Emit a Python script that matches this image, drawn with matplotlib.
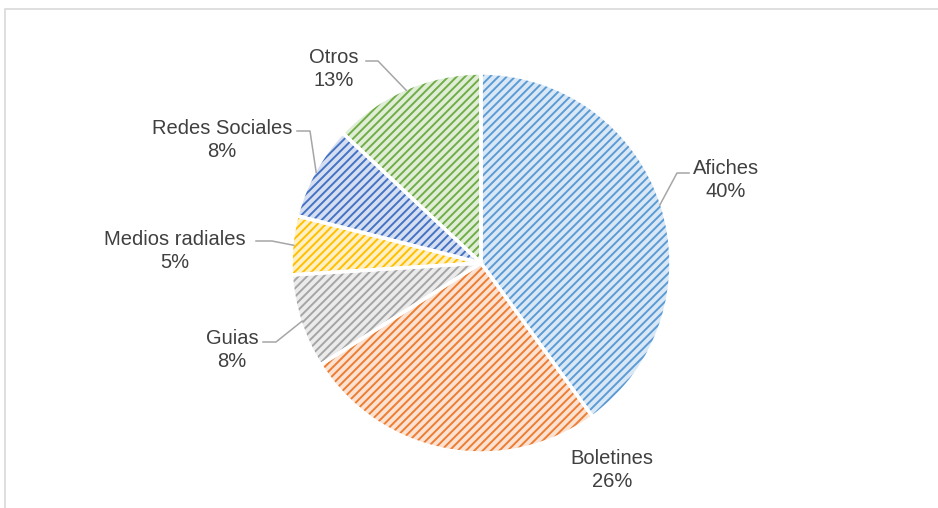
import matplotlib.pyplot as plt
import numpy as np
from matplotlib.patches import Rectangle

# Datos del gráfico
categorias = ["Afiches", "Boletines", "Guias", "Medios radiales", "Redes Sociales", "Otros"]
porcentajes = [40, 26, 8, 5, 8, 13]
colores = ["#5B9BD5", "#ED7D31", "#A5A5A5", "#FFC000", "#4472C4", "#70AD47"]
colores_fondo = ["#DAE8F6", "#FBE2D2", "#EBEBEB", "#FFF0C6", "#D6DFF1", "#E0EED8"]

W, H = 938, 508
centro = (481, H - 263)
radio = 190

# posiciones de etiquetas (pixeles, y desde arriba) y codo de la linea guia
etiquetas_pos = [(726, 180), (612, 470), (232, 350), (175, 251), (222, 140), (334, 69)]
codos = [((689, 173), (677, 173)), None, ((263, 342), (276, 342)),
         ((256, 241), (272, 241)), ((297, 131), (310, 131)), ((366, 61), (378, 61))]

plt.rcParams["hatch.linewidth"] = 1.4
fig = plt.figure(figsize=(W / 100, H / 100), dpi=100)
ax = fig.add_axes([0, 0, 1, 1])

wedges, _ = ax.pie(porcentajes, center=centro, radius=radio, startangle=90,
                   counterclock=False, colors=colores_fondo, frame=True)
for w, c in zip(wedges, colores):
    w.set_edgecolor(c)
    w.set_linewidth(0)
    w.set_hatch("////")

# bordes blancos entre sectores
ax.pie(porcentajes, center=centro, radius=radio, startangle=90, counterclock=False,
       colors=["none"] * len(porcentajes), frame=True,
       wedgeprops=dict(edgecolor="white", linewidth=2.5))
ax.set_xlim(0, W)
ax.set_ylim(0, H)
ax.set_aspect("equal")
ax.axis("off")

# borde del area del grafico (solo arriba e izquierda visibles)
ax.add_patch(Rectangle((5, -40), 980, H - 9 + 40, fill=False, edgecolor="#D9D9D9",
                       linewidth=1.2, clip_on=False))

# etiquetas y lineas guia
acum = np.cumsum([0] + porcentajes)
for i, (cat, p) in enumerate(zip(categorias, porcentajes)):
    x, y = etiquetas_pos[i]
    ax.text(x, H - y, f"{cat}\n{p}%", ha="center", va="center", fontsize=14.5,
            color="#404040", family="Liberation Sans", linespacing=1.3)
    if codos[i] is not None:
        medio = (acum[i] + acum[i + 1]) / 2 / 100 * 360
        ang = np.deg2rad(90 - medio)
        bx = centro[0] + radio * 0.99 * np.cos(ang)
        by = centro[1] + radio * 0.99 * np.sin(ang)
        (x1, y1), (x2, y2) = codos[i]
        ax.plot([x1, x2, bx], [H - y1, H - y2, by], color="#A6A6A6", linewidth=1.1)

fig.savefig("out.png", dpi=100)
